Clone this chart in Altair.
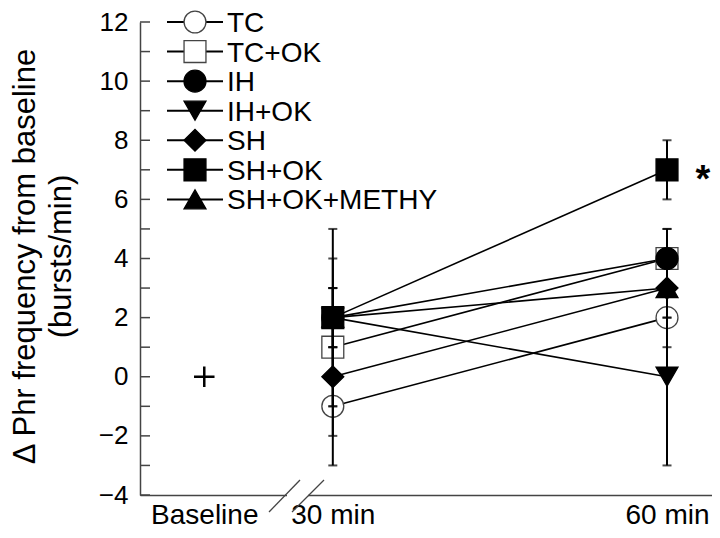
import altair as alt
import pandas as pd

# ---------------- data ----------------
series = ["TC", "TC+OK", "IH", "IH+OK", "SH", "SH+OK", "SH+OK+METHY"]
shapes = ["circle", "square", "circle", "triangle-down", "diamond", "square", "triangle-up"]
fills = ["white", "white", "black", "black", "black", "black", "black"]
strokes = ["#444444", "#444444", "black", "black", "black", "black", "black"]

time_labels = ["Baseline", "30 min", "60 min"]
time_pos = [1.0, 3.0, 8.2]          # position of each time point on the broken x axis

val_30 = [-1, 1, 2, 2, 0, 2, 2]
err_30 = [2, 2, 3, 1, 2, 2, 1]
val_60 = [2, 4, 4, 0, 3, 7, 3]
err_60 = [1, 1, 1, 3, 1, 1, 1]
baseline_value = 0
significant = "SH+OK"               # marked with * at 60 min

y_ticks_major = list(range(-4, 13, 2))
y_ticks_all = list(range(-4, 13))
legend_rows = [12 - i for i in range(len(series))]

FONT = "Liberation Sans"

# ---------------- tables ----------------
rows = []
for i, s in enumerate(series):
    rows.append(dict(series=s, time=time_labels[1], x=time_pos[1], y=val_30[i],
                     lo=val_30[i] - err_30[i], hi=val_30[i] + err_30[i]))
    rows.append(dict(series=s, time=time_labels[2], x=time_pos[2], y=val_60[i],
                     lo=val_60[i] - err_60[i], hi=val_60[i] + err_60[i]))
df = pd.DataFrame(rows)
df_base = pd.DataFrame({"x": [time_pos[0]], "y": [baseline_value]})
df_ticks = pd.DataFrame({"t": y_ticks_all})
df_leg = pd.DataFrame({"series": series, "row": legend_rows})
one = pd.DataFrame({"a": [0]})

# ---------------- scales / axes ----------------
xs = alt.Scale(domain=[0, 8.9], nice=False, zero=False)
ys = alt.Scale(domain=[-4, 12], nice=False, zero=False)

label_expr = "".join(
    f"abs(datum.value - {p}) < 0.01 ? '{l}' : " for l, p in zip(time_labels, time_pos)
) + "''"

x_axis = alt.Axis(values=time_pos, labelExpr=label_expr, ticks=False, grid=False,
                  domainColor="#444444", domainWidth=1.5, labelFontSize=28,
                  labelFont=FONT, labelColor="black", labelPadding=6, title=None,
                  labelFlush=False, labelOverlap=False)
y_axis = alt.Axis(values=y_ticks_major, ticks=False, grid=False,
                  domainColor="#444444", domainWidth=1.5, labelFontSize=26,
                  labelFont=FONT, labelColor="black", labelPadding=12,
                  labelFlush=False, labelOverlap=False,
                  title=["\u0394 Phr frequency from baseline", "(bursts/min)"],
                  titleFont=FONT, titleFontSize=31, titleFontWeight="normal",
                  titleColor="black", titleAngle=270, titleAlign="center",
                  titleBaseline="middle", titleLineHeight=36,
                  titleX=-115, titleY=234)


def X(field):
    return alt.X(field, scale=xs, axis=x_axis)


def Y(field):
    return alt.Y(field, scale=ys, axis=y_axis)


shape_enc = alt.Shape("series:N", scale=alt.Scale(domain=series, range=shapes), legend=None)
fill_enc = alt.Fill("series:N", scale=alt.Scale(domain=series, range=fills), legend=None)
stroke_enc = alt.Stroke("series:N", scale=alt.Scale(domain=series, range=strokes), legend=None)

# ---------------- layers ----------------
yticks = alt.Chart(df_ticks).mark_rule(color="#444444", strokeWidth=1.5).encode(
    y=Y("t:Q"), x=alt.value(0), x2=alt.value(10))

lines = alt.Chart(df).mark_line(color="black", strokeWidth=1.6).encode(
    x=X("x:Q"), y=Y("y:Q"), detail="series:N", order="x:Q")

points = alt.Chart(df).mark_point(size=480, strokeWidth=1.3, opacity=1, fillOpacity=1).encode(
    x=X("x:Q"), y=Y("y:Q"), shape=shape_enc, fill=fill_enc, stroke=stroke_enc)

err_rule = alt.Chart(df).mark_rule(color="black", strokeWidth=2).encode(
    x=X("x:Q"), y=Y("lo:Q"), y2="hi:Q")
err_lo = alt.Chart(df).mark_tick(color="black", orient="horizontal", size=9, thickness=2).encode(
    x=X("x:Q"), y=Y("lo:Q"))
err_hi = alt.Chart(df).mark_tick(color="black", orient="horizontal", size=9, thickness=2).encode(
    x=X("x:Q"), y=Y("hi:Q"))

base_pt = alt.Chart(df_base).mark_point(shape="M-1,0H1M0,-1V1", size=420, filled=False,
                                        stroke="black", strokeWidth=2.5, opacity=1).encode(
    x=X("x:Q"), y=Y("y:Q"))

star = alt.Chart(df).transform_filter(
    (alt.datum.series == significant) & (alt.datum.time == time_labels[2])
).mark_text(text="*", font=FONT, fontSize=38, fontWeight="bold", color="black",
            dx=36, dy=22, baseline="alphabetic", align="center").encode(
    x=X("x:Q"), y=Y("y:Q"))

leg_lines = alt.Chart(df_leg).mark_rule(color="black", strokeWidth=2).encode(
    y=Y("row:Q"), x=alt.value(27), x2=alt.value(83))
leg_pts = alt.Chart(df_leg).mark_point(size=480, strokeWidth=1.3, opacity=1, fillOpacity=1).encode(
    y=Y("row:Q"), x=alt.value(55), shape=shape_enc, fill=fill_enc, stroke=stroke_enc)
leg_txt = alt.Chart(df_leg).mark_text(font=FONT, fontSize=28, align="left", baseline="middle",
                                      color="black", dy=2).encode(
    y=Y("row:Q"), x=alt.value(87), text="series:N")

# axis break on the x axis
brk_gap = alt.Chart(one).mark_rect(color="white").encode(
    x=alt.value(147), x2=alt.value(168), y=alt.value(469), y2=alt.value(477))
brk1 = alt.Chart(one).mark_rule(color="#444444", strokeWidth=1.3).encode(
    x=alt.value(129), y=alt.value(490), x2=alt.value(160), y2=alt.value(458))
brk2 = alt.Chart(one).mark_rule(color="#444444", strokeWidth=1.3).encode(
    x=alt.value(152), y=alt.value(490), x2=alt.value(184), y2=alt.value(458))

chart = alt.layer(
    yticks, lines, points, err_rule, err_lo, err_hi, base_pt, star,
    leg_lines, leg_pts, leg_txt, brk_gap, brk1, brk2
).properties(
    width=572, height=473,
    autosize=alt.AutoSizeParams(type="none"),
    padding={"left": 132, "top": 14, "right": 0, "bottom": 35},
    background="white",
).configure_view(stroke=None)

chart.save("out.html", embed_options={"renderer": "svg", "actions": False})
